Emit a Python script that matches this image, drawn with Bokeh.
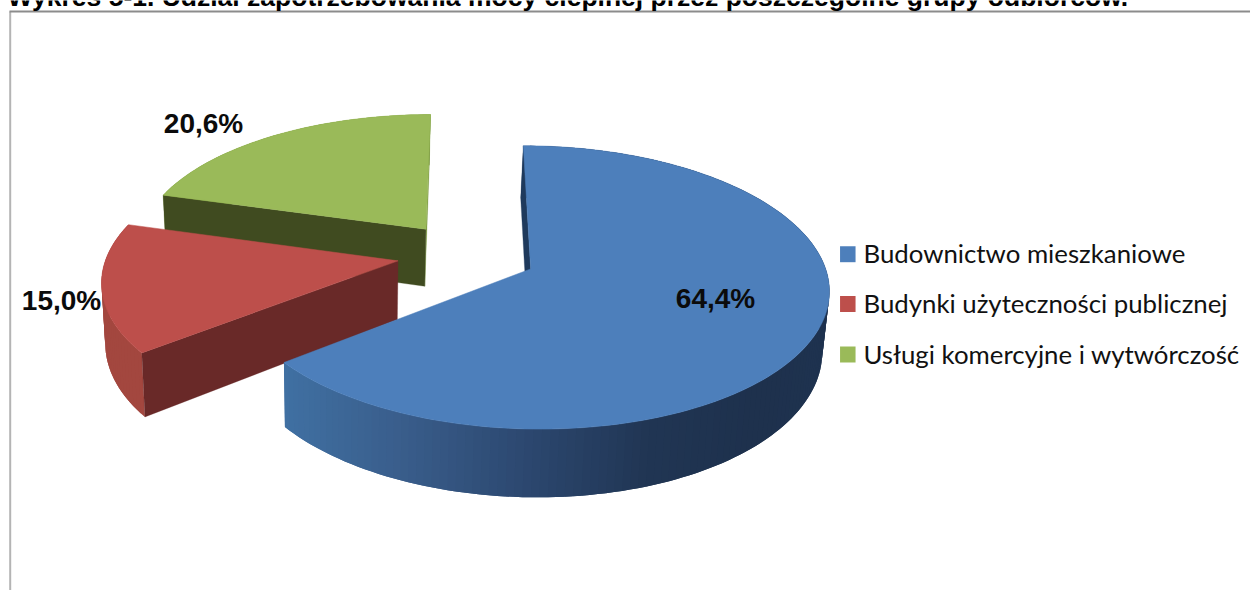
import numpy as np
from bokeh.plotting import figure
from bokeh.models import Range1d
from bokeh.embed import file_html
from bokeh.resources import INLINE
from bokeh.core.properties import value

title = "Wykres 5-1. Udział zapotrzebowania mocy cieplnej przez poszczególne grupy odbiorców."
categories = ["Budownictwo mieszkaniowe", "Budynki użyteczności publicznej", "Usługi komercyjne i wytwórczość"]
shares = [64.4, 15.0, 20.6]
labels = ["64,4%", "15,0%", "20,6%"]
top_colors = ["#4d7fbb", "#bd4f4b", "#9aba59"]
face_colors = ["#1f3a5c", "#692928", "#404b20"]
arc_colors = ["#3d6c9d", "#a3473f", "#7c9a40"]
label_pos = [(715, 298), (61, 300), (203, 123)]

# wall shading of the big slice, by screen x
shade_x = [287, 400, 540, 650, 760, 830]
shade_rgb = [(64, 112, 162), (58, 94, 140), (43, 70, 109), (33, 54, 84), (30, 49, 77), (31, 51, 80)]

# projection of the pie plane
CX, CY, A, B, K, EXPL, DEPTH = 466.5, 254, 291, 135.5, 0.129, 0.24, 58.5
VX, CONV = 350, 0.015


def project(X, Y):
    s = 1 / (1 + K * Y)
    return CX + A * X * s, CY - B * Y * s, s


def bottom(x, y, s):
    return x - (x - VX) * CONV, y + DEPTH * s


p = figure(width=1250, height=590, x_range=Range1d(0, 1250), y_range=Range1d(590, 0),
           output_backend="svg", toolbar_location=None, min_border=0, outline_line_color=None,
           background_fill_color="white", border_fill_color="white", margin=(0, 0, 0, 0))
p.axis.visible = False
p.grid.visible = False

# frame
p.line([9.7, 9.7], [11, 590], line_color="#b4b4b4", line_width=2)
p.line([9, 1250], [11, 11], line_color="#8c8c8c", line_width=2)

# slices, angles clockwise from 12 o'clock
ends = np.cumsum(shares) / sum(shares) * 2 * np.pi
starts = np.concatenate([[0], ends[:-1]])


def draw_slice(i):
    th0, th1 = starts[i], ends[i]
    mid = (th0 + th1) / 2
    ox, oy = EXPL * np.sin(mid), EXPL * np.cos(mid)
    th = np.linspace(th0, th1, max(12, int((th1 - th0) * 40)))
    ax, ay, aS = project(ox + np.sin(th), oy + np.cos(th))
    cx, cy, cS = project(ox, oy)
    bx, by = bottom(ax, ay, aS)
    cbx, cby = bottom(cx, cy, cS)
    # outer wall: strips overlap so that no seams show
    xs, ys, cols = [], [], []
    for j in range(len(th) - 1):
        k = min(j + 2, len(th) - 1)
        xs.append(list(ax[j:k + 1]) + list(bx[j:k + 1][::-1]))
        ys.append(list(ay[j:k + 1]) + list(by[j:k + 1][::-1]))
        if i == 0:
            xm = (ax[j] + ax[j + 1]) / 2
            rgb = [int(np.interp(xm, shade_x, [c[n] for c in shade_rgb])) for n in range(3)]
            cols.append("#%02x%02x%02x" % tuple(rgb))
        else:
            cols.append(arc_colors[i])
    p.patches(xs, ys, fill_color=cols, line_color=None)
    # radial walls: only the ones that face the viewer
    if i == 2:
        p.patch([ax[-1], cx, cbx, bx[-1]], [ay[-1], cy, cby, by[-1]], fill_color=arc_colors[i],
                line_color=arc_colors[i], line_width=0.3)
    p.patch([ax[0], cx, cbx, bx[0]], [ay[0], cy, cby, by[0]], fill_color=face_colors[i],
            line_color=face_colors[i], line_width=0.3)
    # top
    p.patch(list(ax) + [cx], list(ay) + [cy], fill_color=top_colors[i], line_color=top_colors[i], line_width=0.5)


for i in (2, 1, 0):
    draw_slice(i)

# value labels
p.text([q[0] for q in label_pos], [q[1] for q in label_pos], text=labels, text_align="center",
       text_baseline="middle", text_font=value("Liberation Sans"), text_font_style="bold",
       text_font_size="28px", text_color="#0b0b0b")

# legend
leg_y = [253.7, 303.5, 354]
p.rect([847.3] * 3, leg_y, width=15.5, height=16, fill_color=top_colors, line_color=None)
p.text([863] * 3, [y - 1 for y in leg_y], text=categories, text_align="left", text_baseline="middle",
       text_font=value("Lato"), text_font_size="25.8px", text_color="#111111")

# title, cut by the top of the page
p.text([7], [-4], text=[title], text_align="left", text_baseline="alphabetic",
       text_font=value("Liberation Sans"), text_font_style="bold", text_font_size="26.5px", text_color="#000000")

open("out.html", "w").write(file_html(p, INLINE))
